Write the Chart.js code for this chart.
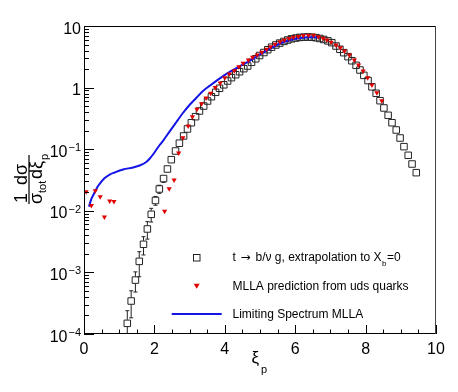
<!DOCTYPE html>
<html lang="en">
<head>
<meta charset="UTF-8">
<title>xi_p spectrum</title>
<script src="https://cdn.jsdelivr.net/npm/chart.js@4.4.0/dist/chart.umd.min.js"></script>
<style>
  body { margin: 0; background: #fff; }
</style>
</head>
<body>
<canvas id="chart" width="458" height="392"></canvas>
<script>
// t -> b l nu g, extrapolation to X_b = 0  (open squares)
const tXi = [1.23, 1.34, 1.46, 1.57, 1.69, 1.80, 1.91, 2.03, 2.14, 2.26,
  2.37, 2.48, 2.60, 2.71, 2.83, 2.94, 3.05, 3.17, 3.28, 3.40,
  3.51, 3.62, 3.74, 3.85, 3.97, 4.08, 4.19, 4.31, 4.42, 4.54,
  4.65, 4.76, 4.88, 4.99, 5.11, 5.22, 5.33, 5.45, 5.56, 5.68,
  5.79, 5.90, 6.02, 6.13, 6.25, 6.36, 6.47, 6.59, 6.70, 6.81,
  6.93, 7.04, 7.16, 7.27, 7.38, 7.50, 7.61, 7.73, 7.84, 7.95,
  8.07, 8.18, 8.30, 8.41, 8.52, 8.64, 8.75, 8.87, 8.98, 9.09,
  9.21, 9.32, 9.44];
const tVal = [1.49e-4, 3.43e-4, 7.5e-4, 1.51e-3, 2.86e-3, 5.07e-3, 8.77e-3, 0.0147, 0.0226, 0.0334,
  0.0477, 0.0676, 0.0935, 0.125, 0.164, 0.213, 0.269, 0.337, 0.417, 0.502,
  0.606, 0.711, 0.839, 0.975, 1.11, 1.28, 1.45, 1.62, 1.81, 2.03,
  2.24, 2.57, 2.94, 3.32, 3.71, 4.12, 4.53, 4.92, 5.28, 5.62,
  5.93, 6.20, 6.38, 6.53, 6.60, 6.63, 6.58, 6.46, 6.27, 6.04,
  5.73, 5.36, 4.73, 4.19, 3.69, 3.18, 2.73, 2.30, 1.93, 1.58,
  1.30, 1.03, 0.808, 0.613, 0.467, 0.355, 0.269, 0.205, 0.152, 0.110,
  0.0796, 0.0575, 0.0416];
// errors of the first points (the rest hide inside the markers)
const tErr = [0.9e-4, 1.6e-4, 2.7e-4, 6.6e-4, 9.4e-4, 1.6e-3, 2.2e-3, 2.4e-3, 3.4e-3, 4.5e-3, 5e-3, 6e-3];

// MLLA prediction from uds quarks (red triangles)
const mllaXi = [0.06, 0.21, 0.32, 0.46, 0.58, 0.73, 0.85,
  2.29, 2.42, 2.56, 2.69, 2.81, 2.96, 3.08, 3.21, 3.34, 3.47,
  3.60, 3.73, 3.87, 4.00, 4.13, 4.27, 4.40, 4.52, 4.67, 4.79,
  4.92, 5.05, 5.19, 5.30, 5.43, 5.57, 5.69, 5.83, 5.95, 6.09,
  6.23, 6.38, 6.52, 6.66, 6.79, 6.90, 7.02, 7.16, 7.28, 7.40,
  7.54, 7.68, 7.80, 7.93, 8.06, 8.18, 8.32, 8.46];
const mllaVal = [0.0204, 0.0122, 0.0212, 0.0169, 0.00793, 0.0144, 0.0141,
  0.00982, 0.0229, 0.0316, 0.0867, 0.154, 0.238, 0.337, 0.446, 0.548, 0.678,
  0.808, 1.00, 1.19, 1.45, 1.66, 1.88, 2.18, 2.48, 2.81, 3.10,
  3.38, 3.74, 4.19, 4.61, 5.05, 5.56, 5.93, 6.27, 6.56, 6.75,
  7.01, 7.06, 7.06, 6.70, 6.31, 5.93, 5.44, 4.92, 4.45, 3.93,
  3.38, 2.81, 2.33, 1.86, 1.45, 1.10, 0.826, 0.613];

// Limiting Spectrum MLLA (blue line)
const limXi = [0.14, 0.21, 0.25, 0.30, 0.39, 0.44, 0.58, 0.73, 0.87, 1.11,
  1.39, 1.58, 1.77, 1.87, 1.96, 2.06, 2.15, 2.25, 2.44, 2.63,
  2.81, 3.01, 3.20, 3.38, 3.58, 3.77, 3.95, 4.15, 4.43, 4.72,
  5.00, 5.29, 5.57, 5.85, 6.14, 6.42, 6.65];
const limVal = [0.0117, 0.0156, 0.0174, 0.0198, 0.0248, 0.0272, 0.0337, 0.0388, 0.0419, 0.0468,
  0.0505, 0.0543, 0.0619, 0.0706, 0.0820, 0.0989, 0.117, 0.138, 0.197, 0.279,
  0.387, 0.532, 0.690, 0.881, 1.08, 1.30, 1.54, 1.81, 2.24, 2.75,
  3.45, 4.31, 5.20, 5.93, 6.38, 6.58, 6.51];

// axis ticks and labels
const xTicks = [0, 2, 4, 6, 8, 10];
const yTicks = [1e-4, 1e-3, 1e-2, 1e-1, 1, 10];
const yBase = ['10', '10', '10', '10', '1', '10'];
const yExp = ['\u22124', '\u22123', '\u22122', '\u22121', '', ''];

const legendText = ['b/\u03bd g, extrapolation to X', 'MLLA prediction from uds quarks', 'Limiting Spectrum MLLA'];

const FONT = '"Liberation Sans", Arial, Helvetica, sans-serif';
const SQ_COLOR = '#222';
const RED = '#e00000';
const BLUE = 'rgb(20,20,230)';

const pts = (xs, ys) => xs.map((x, i) => ({ x: x, y: ys[i] }));

const rootFrame = {
  id: 'rootFrame',
  afterDatasetsDraw(chart) {
    // error bars on the squares
    const ctx = chart.ctx, xs = chart.scales.x, ys = chart.scales.y, a = chart.chartArea;
    ctx.save();
    ctx.beginPath();
    ctx.rect(a.left, a.top, a.right - a.left, a.bottom - a.top);
    ctx.clip();
    ctx.strokeStyle = SQ_COLOR;
    ctx.lineWidth = 1;
    tErr.forEach((e, i) => {
      const px = xs.getPixelForValue(tXi[i]);
      const py = ys.getPixelForValue(tVal[i]);
      const hi = ys.getPixelForValue(tVal[i] + e);
      const lo = tVal[i] - e > 0 ? ys.getPixelForValue(tVal[i] - e) : a.bottom + 10;
      ctx.beginPath();
      if (py - 3.5 > hi) { ctx.moveTo(px, py - 3.5); ctx.lineTo(px, hi); ctx.moveTo(px - 2, hi); ctx.lineTo(px + 2, hi); }
      if (lo > py + 3.5) { ctx.moveTo(px, py + 3.5); ctx.lineTo(px, lo); ctx.moveTo(px - 2, lo); ctx.lineTo(px + 2, lo); }
      ctx.stroke();
    });
    ctx.restore();
  },
  afterDraw(chart) {
    const ctx = chart.ctx, xs = chart.scales.x, ys = chart.scales.y, a = chart.chartArea;
    ctx.save();
    // frame
    ctx.strokeStyle = '#000';
    ctx.lineWidth = 1;
    ctx.beginPath();
    ctx.moveTo(a.left + 0.5, a.bottom); ctx.lineTo(a.left + 0.5, a.top + 0.5); ctx.lineTo(a.right, a.top + 0.5);
    ctx.moveTo(a.left, a.bottom - 0.5); ctx.lineTo(a.right, a.bottom - 0.5);
    ctx.stroke();
    ctx.strokeStyle = '#444';
    ctx.beginPath();
    ctx.moveTo(a.right - 0.5, a.top); ctx.lineTo(a.right - 0.5, a.bottom);
    ctx.stroke();
    ctx.strokeStyle = '#000';

    // ticks inside the frame
    ctx.beginPath();
    for (let k = -4; k <= 1; k++) {
      const py = Math.round(ys.getPixelForValue(Math.pow(10, k))) + 0.5;
      ctx.moveTo(a.left, py); ctx.lineTo(a.left + 10, py);
      if (k < 1) {
        for (let m = 2; m <= 9; m++) {
          const pm = Math.round(ys.getPixelForValue(m * Math.pow(10, k))) + 0.5;
          ctx.moveTo(a.left, pm); ctx.lineTo(a.left + 5, pm);
        }
      }
    }
    for (let v = 0; v <= 10; v += 0.5) {
      const px = Math.round(xs.getPixelForValue(v)) + 0.5;
      const len = v % 2 === 0 ? 9 : 4.5;
      ctx.moveTo(px, a.bottom); ctx.lineTo(px, a.bottom - len);
    }
    ctx.stroke();

    // tick labels
    ctx.fillStyle = '#000';
    ctx.textBaseline = 'alphabetic';
    yTicks.forEach((v, i) => {
      const py = ys.getPixelForValue(v);
      const right = 81;
      ctx.font = '11px ' + FONT;
      const ew = yExp[i] ? ctx.measureText(yExp[i]).width : 0;
      if (yExp[i]) { ctx.textAlign = 'right'; ctx.fillText(yExp[i], right, py + 2); }
      ctx.font = '16px ' + FONT;
      ctx.textAlign = 'right';
      ctx.fillText(yBase[i], right - (ew ? ew + 1 : 0), py + 7.5);
    });
    ctx.textAlign = 'center';
    ctx.font = '16px ' + FONT;
    xTicks.forEach(v => ctx.fillText(String(v), xs.getPixelForValue(v), 353.5));

    // x title
    ctx.textAlign = 'left';
    ctx.font = '17px ' + FONT;
    ctx.fillText('\u03be', 251.5, 363);
    ctx.font = '11px ' + FONT;
    ctx.fillText('p', 261, 373);

    // y title (rotated)
    ctx.save();
    ctx.translate(29, 204);
    ctx.rotate(-Math.PI / 2);
    ctx.textAlign = 'left';
    ctx.font = '18px ' + FONT;
    ctx.fillText('1', 1, -2);
    ctx.fillText('d\u03c3', 19, -2);
    ctx.fillRect(0, -0.6, 49, 1.2);
    ctx.fillText('\u03c3', 0, 13);
    ctx.fillText('d\u03be', 25, 13);
    ctx.font = '11px ' + FONT;
    ctx.fillText('tot', 11, 17);
    ctx.fillText('p', 44, 19);
    ctx.restore();

    // legend
    ctx.font = '12px ' + FONT;
    ctx.textAlign = 'left';
    const lx = 232.5;
    ctx.fillText('t', lx, 261);
    ctx.font = '12px "DejaVu Sans", ' + FONT;
    ctx.fillText('\u2192', lx + 8, 261);
    ctx.font = '12px ' + FONT;
    const lx2 = lx + 23;
    ctx.fillText(legendText[0], lx2, 261);
    let w = ctx.measureText(legendText[0]).width;
    ctx.font = '8px ' + FONT;
    ctx.fillText('b', lx2 + w + 0.5, 266);
    const wb = ctx.measureText('b').width;
    ctx.font = '12px ' + FONT;
    ctx.fillText('=0', lx2 + w + wb + 1, 261);
    ctx.fillText(legendText[1], lx, 290);
    ctx.fillText(legendText[2], lx, 318);

    ctx.strokeStyle = SQ_COLOR;
    ctx.lineWidth = 1;
    ctx.strokeRect(193.5, 254.5, 6.5, 6.5);
    ctx.fillStyle = RED;
    ctx.beginPath();
    ctx.moveTo(193.7, 283.7); ctx.lineTo(199.7, 283.7); ctx.lineTo(196.7, 288.8);
    ctx.closePath();
    ctx.fill();
    ctx.strokeStyle = BLUE;
    ctx.lineWidth = 2;
    ctx.beginPath();
    ctx.moveTo(171.7, 314); ctx.lineTo(221.7, 314);
    ctx.stroke();
    ctx.restore();
  }
};

new Chart(document.getElementById('chart'), {
  type: 'scatter',
  data: {
    datasets: [
      {
        label: 'MLLA prediction from uds quarks',
        data: pts(mllaXi, mllaVal),
        pointStyle: 'triangle',
        rotation: 180,
        pointRadius: 3,
        backgroundColor: RED,
        borderColor: RED,
        borderWidth: 0,
        order: 1
      },
      {
        label: 'Limiting Spectrum MLLA',
        data: pts(limXi, limVal),
        showLine: true,
        pointRadius: 0,
        borderColor: BLUE,
        borderWidth: 2,
        cubicInterpolationMode: 'monotone',
        order: 2
      },
      {
        label: 't -> b l nu g, extrapolation to X_b=0',
        data: pts(tXi, tVal),
        pointStyle: 'rect',
        pointRadius: 4.6,
        backgroundColor: 'rgba(0,0,0,0)',
        borderColor: SQ_COLOR,
        borderWidth: 1,
        order: 3
      }
    ]
  },
  options: {
    responsive: false,
    animation: false,
    layout: { padding: { left: 84, top: 26, right: 22, bottom: 58 } },
    plugins: { legend: { display: false }, tooltip: { enabled: false } },
    scales: {
      x: { type: 'linear', min: 0, max: 10, display: false },
      y: { type: 'logarithmic', min: 1e-4, max: 10, display: false }
    }
  },
  plugins: [rootFrame]
});
</script>
</body>
</html>
